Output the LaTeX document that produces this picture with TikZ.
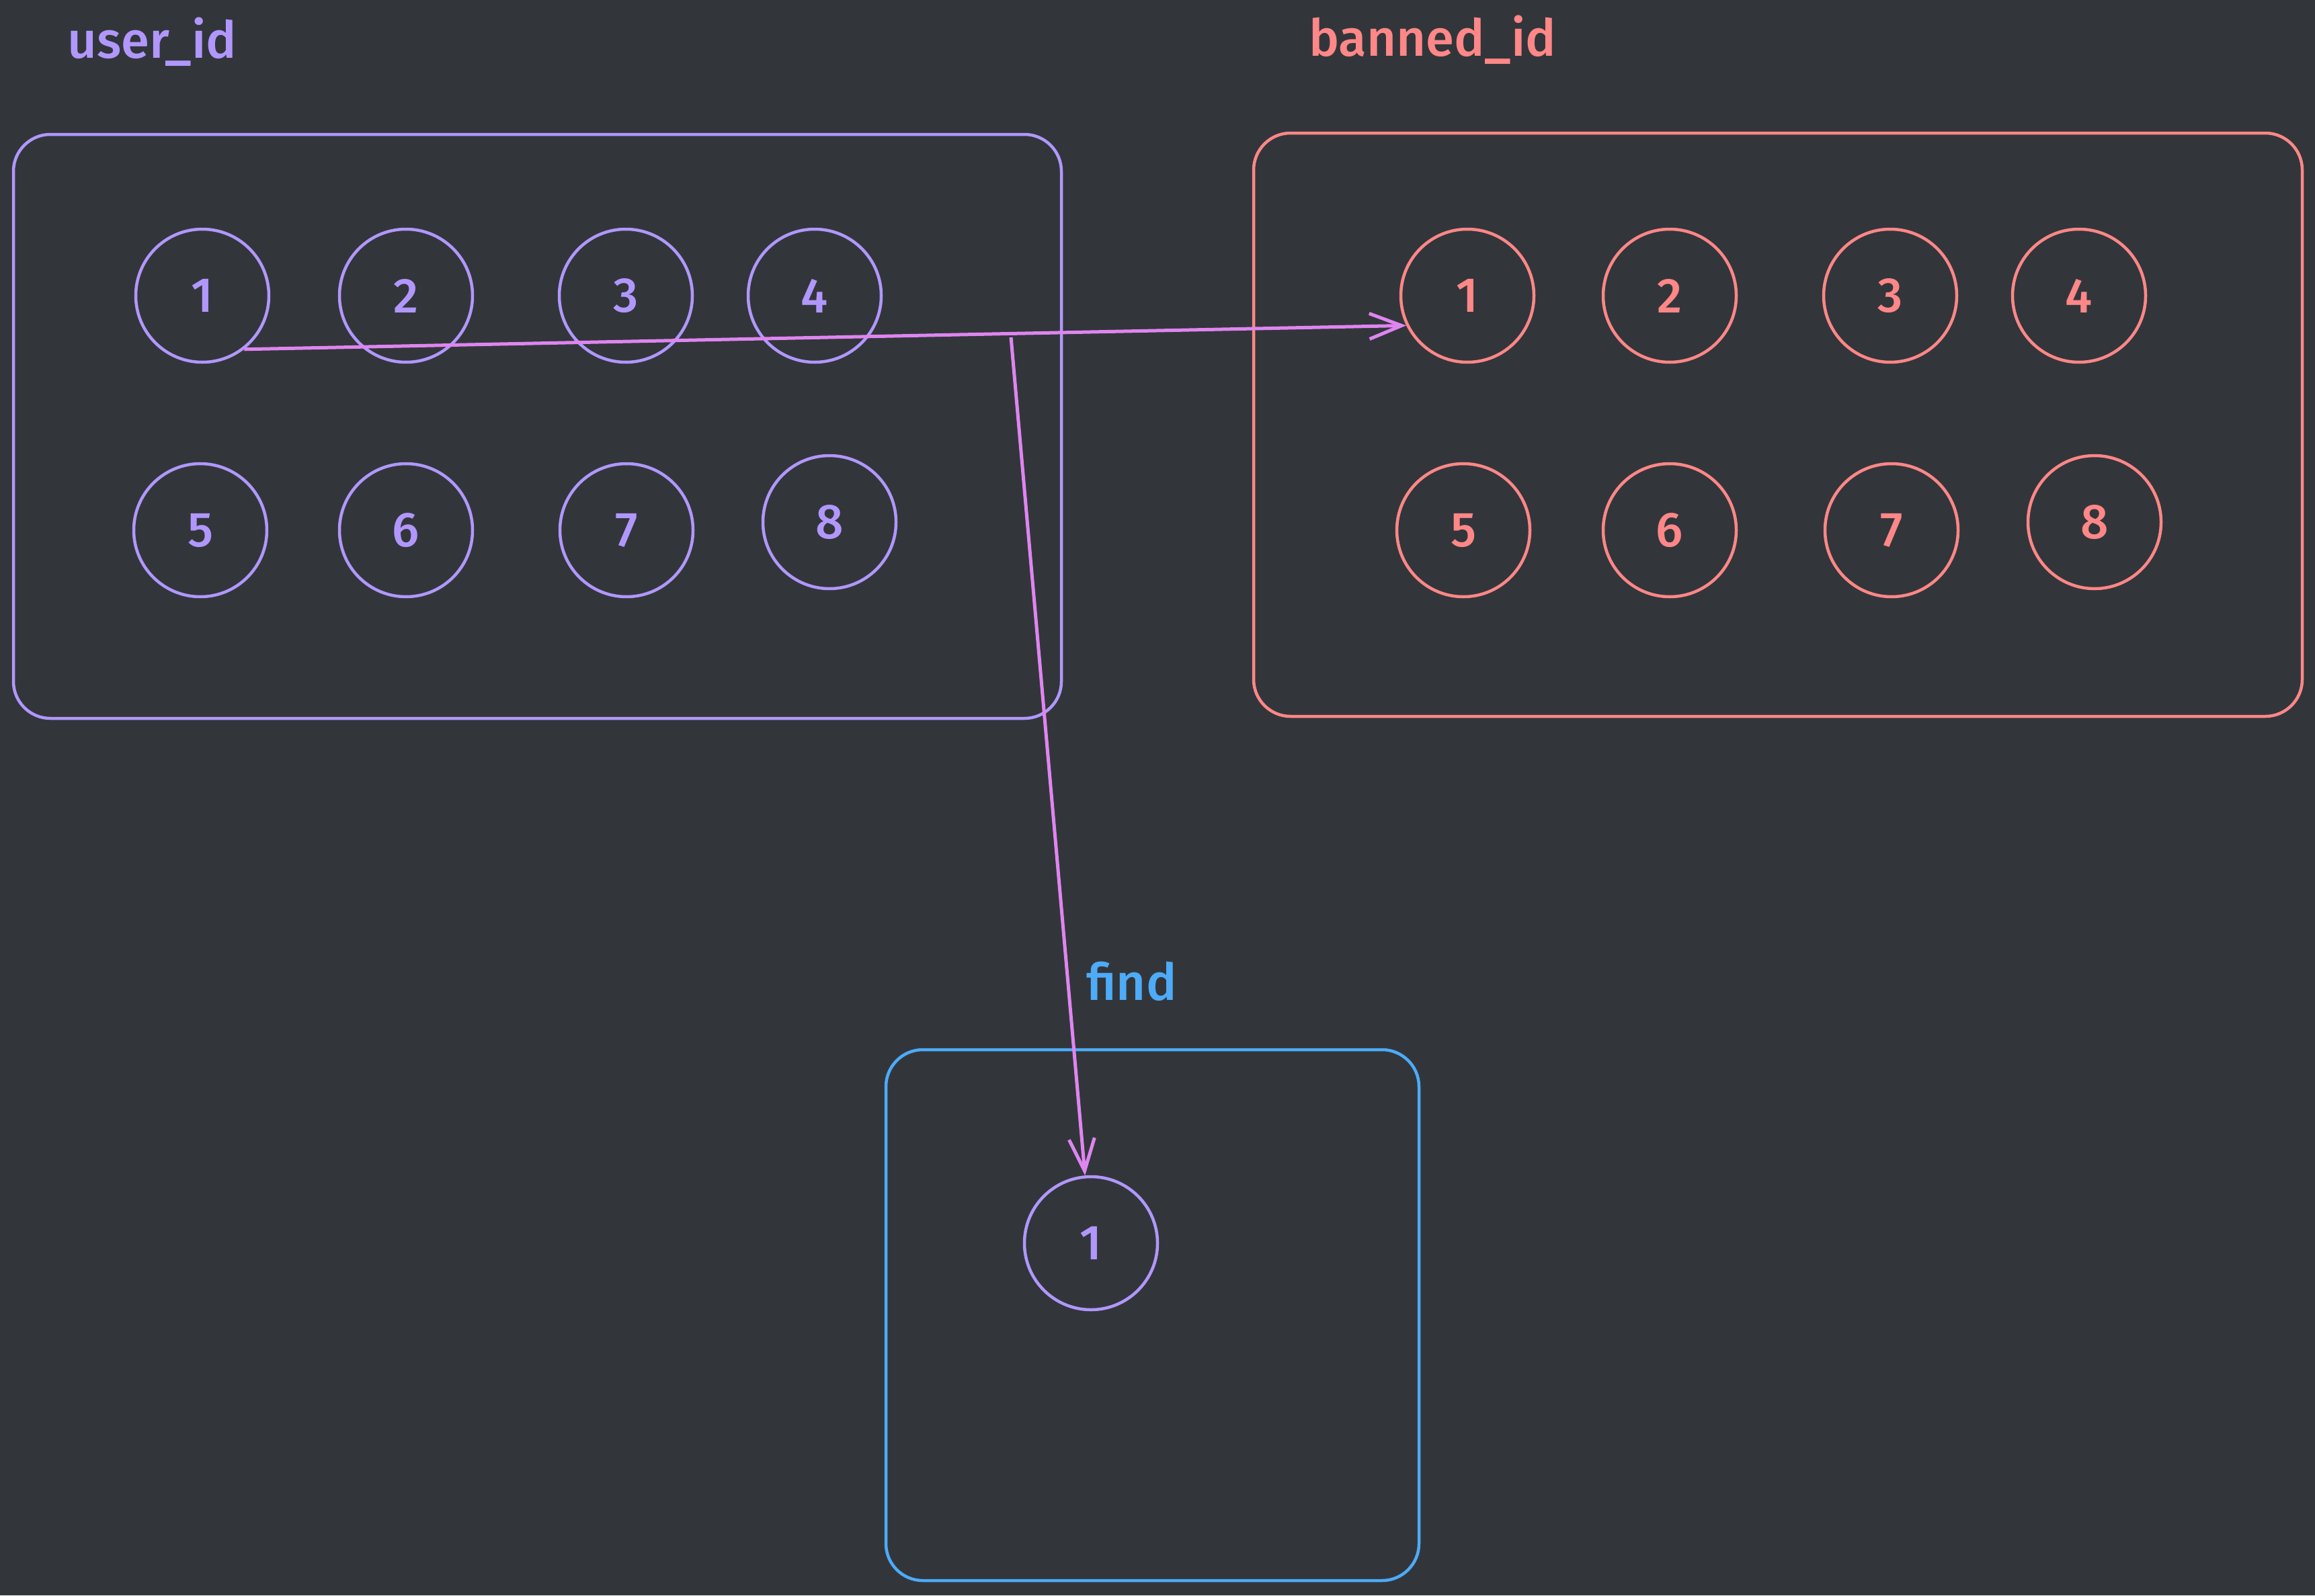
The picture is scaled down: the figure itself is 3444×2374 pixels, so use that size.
\documentclass[tikz,border=0pt]{standalone}
\usepackage{fontspec}
\setmainfont{Fira Sans Medium}
\usetikzlibrary{arrows.meta}
\definecolor{darkBg}{HTML}{32363B}
\definecolor{lightViolet}{HTML}{B197FC}
\definecolor{lightRed}{HTML}{FF8787}
\definecolor{lightBlue}{HTML}{4DABF7}
\definecolor{lightPink}{HTML}{DF85F0}

\begin{document}
\begin{tikzpicture}[x=1pt, y=-1pt, line width=4.5pt,
    idbox/.style={draw, rectangle, rounded corners=55pt, inner sep=0pt},
    idnode/.style={draw, circle, minimum size=198pt, inner sep=0pt, font=\fontsize{73}{88}\selectfont},
    idlabel/.style={anchor=base west, inner sep=0pt, font=\fontsize{76}{92}\selectfont},
    idarrow/.style={draw=lightPink, line width=5pt, -{Straight Barb[length=48pt, width=38pt]}}]

    \path [use as bounding box, fill=darkBg] (0,0) rectangle (3444,2374);

    % boxes and their titles
    \node (user_box) [idbox, lightViolet, minimum width=1559pt, minimum height=869pt] at (799.5,634.5) {};
    \node (banned_box) [idbox, lightRed, minimum width=1560pt, minimum height=868pt] at (2645,632) {};
    \node (find_box) [idbox, lightBlue, minimum width=793pt, minimum height=790pt] at (1714.5,1957) {};

    \node (user_label) [idlabel, lightViolet] at (98,86) {user\_id};
    \node (banned_label) [idlabel, lightRed] at (1945,84) {banned\_id};
    \node (find_label) [idlabel, lightBlue] at (1614,1488) {find};

    % ids
    \foreach \n/\x/\y in {1/301/440, 2/604/440, 3/931/440, 4/1212/440, 5/298/789, 6/604/789, 7/932/789, 8/1234/777}
        \node (u\n) [idnode, lightViolet] at (\x,\y) {\n};
    \foreach \n/\x/\y in {1/2183/440, 2/2484/440, 3/2812/440, 4/3093/440, 5/2177/789, 6/2484/789, 7/2814/789, 8/3116/777}
        \node (b\n) [idnode, lightRed] at (\x,\y) {\n};
    \node (f1) [idnode, lightViolet] at (1623,1850) {1};

    \coordinate (scan) at (1504,502);

    \draw [idarrow] (u1.-52) -- (b1.206);
    \draw [idarrow] (scan) -- (f1.95);
\end{tikzpicture}
\end{document}
